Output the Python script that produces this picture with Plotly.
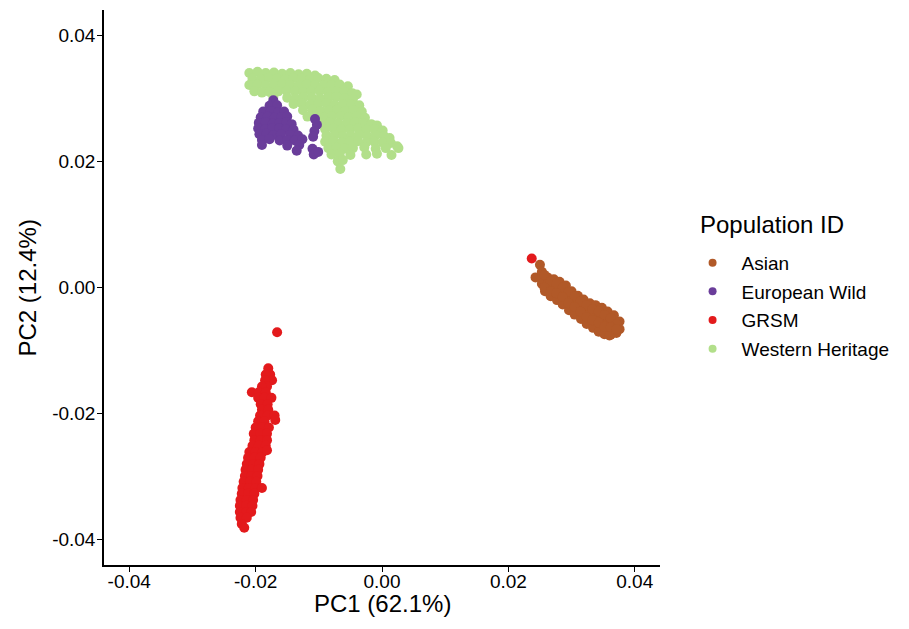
import plotly.graph_objects as go

# ---------------- data (PC1, PC2) ----------------
western_x = [-0.0210,-0.0197,-0.0184,-0.0171,-0.0158,-0.0145,-0.0132,-0.0119,-0.0106,
             -0.0205,-0.0192,-0.0179,-0.0166,-0.0153,-0.0140,-0.0127,-0.0114,-0.0101,-0.0088,-0.0075,
             -0.0210,-0.0197,-0.0184,-0.0171,-0.0158,-0.0145,-0.0132,-0.0119,-0.0106,-0.0093,-0.0080,-0.0067,-0.0054,
             -0.0202,-0.0190,-0.0178,-0.0164,-0.0151,-0.0138,-0.0125,-0.0112,-0.0099,-0.0086,-0.0073,-0.0060,-0.0047,-0.0040,
             -0.0172,-0.0150,-0.0137,-0.0124,-0.0111,-0.0098,-0.0085,-0.0072,-0.0059,-0.0046,
             -0.0140,-0.0127,-0.0114,-0.0101,-0.0088,-0.0075,-0.0062,-0.0049,-0.0036,
             -0.0125,-0.0110,-0.0097,-0.0084,-0.0071,-0.0058,-0.0045,-0.0032,
             -0.0118,-0.0105,-0.0092,-0.0079,-0.0066,-0.0053,-0.0040,-0.0027,
             -0.0095,-0.0082,-0.0069,-0.0056,-0.0043,-0.0030,-0.0017,-0.0008,
             -0.0090,-0.0077,-0.0064,-0.0051,-0.0038,-0.0025,-0.0012,0.0001,
             -0.0088,-0.0075,-0.0062,-0.0049,-0.0036,-0.0023,-0.0010,0.0003,0.0012,
             -0.0090,-0.0077,-0.0064,-0.0051,-0.0038,-0.0025,-0.0012,0.0001,0.0014,0.0024,
             -0.0085,-0.0072,-0.0059,-0.0046,-0.0028,-0.0010,0.0006,0.0026,
             -0.0080,-0.0067,-0.0050,-0.0025,-0.0008,0.0015,
             -0.0070,-0.0062,
             -0.0066]
western_y = [0.0340,0.0342,0.0340,0.0341,0.0339,0.0340,0.0338,0.0339,0.0336,
             0.0331,0.0330,0.0332,0.0331,0.0330,0.0332,0.0331,0.0330,0.0332,0.0331,0.0329,
             0.0321,0.0322,0.0320,0.0321,0.0322,0.0321,0.0320,0.0322,0.0321,0.0320,0.0321,0.0322,0.0319,
             0.0311,0.0309,0.0310,0.0311,0.0312,0.0311,0.0310,0.0311,0.0312,0.0310,0.0311,0.0310,0.0308,0.0306,
             0.0302,0.0301,0.0300,0.0302,0.0301,0.0300,0.0301,0.0302,0.0300,0.0299,
             0.0291,0.0292,0.0290,0.0291,0.0292,0.0290,0.0291,0.0290,0.0289,
             0.0281,0.0282,0.0280,0.0281,0.0282,0.0280,0.0281,0.0279,
             0.0271,0.0272,0.0270,0.0271,0.0272,0.0270,0.0271,0.0269,
             0.0261,0.0262,0.0260,0.0261,0.0262,0.0260,0.0259,0.0257,
             0.0251,0.0252,0.0250,0.0251,0.0252,0.0250,0.0251,0.0249,
             0.0241,0.0242,0.0240,0.0241,0.0242,0.0240,0.0241,0.0240,0.0237,
             0.0231,0.0232,0.0230,0.0231,0.0232,0.0230,0.0231,0.0230,0.0229,0.0224,
             0.0221,0.0222,0.0220,0.0221,0.0222,0.0220,0.0221,0.0221,
             0.0211,0.0212,0.0210,0.0211,0.0212,0.0210,
             0.0200,0.0202,
             0.0188]

euro_x = [-0.0172,
          -0.0178,-0.0166,
          -0.0188,-0.0176,-0.0164,-0.0155,
          -0.0192,-0.0181,-0.0170,-0.0159,-0.0150,
          -0.0195,-0.0184,-0.0173,-0.0162,-0.0151,-0.0143,
          -0.0196,-0.0185,-0.0174,-0.0163,-0.0152,-0.0140,
          -0.0194,-0.0183,-0.0172,-0.0160,-0.0145,-0.0133,
          -0.0190,-0.0178,-0.0162,-0.0150,-0.0138,-0.0126,
          -0.0190,-0.0150,-0.0131,
          -0.0135,
          -0.0106,-0.0103,-0.0107,-0.0109,-0.0110,-0.0108,-0.0101]
euro_y = [0.0297,
          0.0288,0.0289,
          0.0279,0.0280,0.0278,0.0279,
          0.0270,0.0271,0.0269,0.0270,0.0271,
          0.0261,0.0262,0.0260,0.0261,0.0262,0.0259,
          0.0252,0.0251,0.0253,0.0252,0.0251,0.0250,
          0.0243,0.0244,0.0242,0.0243,0.0242,0.0241,
          0.0234,0.0235,0.0233,0.0234,0.0233,0.0235,
          0.0226,0.0225,0.0226,
          0.0217,
          0.0267,0.0258,0.0248,0.0239,0.0220,0.0211,0.0215]

asian_x = [0.0250,0.0243,
           0.0253,0.0253,0.0253,
           0.0262,0.0262,0.0262,0.0258,
           0.0272,0.0272,0.0272,0.0267,
           0.0281,0.0281,0.0281,0.0277,
           0.0291,0.0291,0.0291,0.0286,
           0.0300,0.0300,0.0300,0.0296,
           0.0310,0.0310,0.0310,0.0305,
           0.0319,0.0319,0.0319,0.0315,
           0.0329,0.0329,0.0329,0.0324,
           0.0338,0.0338,0.0338,0.0334,
           0.0348,0.0348,0.0348,0.0343,
           0.0357,0.0357,0.0357,0.0352,
           0.0367,0.0367,0.0367,0.0362,
           0.0376,0.0376,0.0371,
           0.0360,
           0.0257,0.0267,0.0276,0.0286,0.0295,0.0305,0.0314,0.0324,0.0333,0.0343,0.0352,0.0362,0.0371,
           0.0257,0.0267,0.0276,0.0286,0.0295,0.0305,0.0314,0.0324,0.0333,0.0343,0.0352,0.0362,0.0371]
asian_y = [0.0036,0.0016,
           0.0025,0.0014,0.0006,
           0.0016,0.0005,-0.0003,-0.0006,
           0.0013,0.0002,-0.0009,-0.0014,
           0.0009,-0.0002,-0.0016,-0.0020,
           0.0003,-0.0009,-0.0022,-0.0027,
           -0.0006,-0.0019,-0.0032,-0.0036,
           -0.0013,-0.0025,-0.0038,-0.0043,
           -0.0019,-0.0032,-0.0044,-0.0050,
           -0.0025,-0.0040,-0.0054,-0.0058,
           -0.0028,-0.0044,-0.0060,-0.0064,
           -0.0032,-0.0049,-0.0066,-0.0070,
           -0.0038,-0.0054,-0.0070,-0.0074,
           -0.0044,-0.0057,-0.0070,-0.0075,
           -0.0054,-0.0066,-0.0072,
           -0.0076,
           0.0020,0.0010,0.0005,0.0000,-0.0007,-0.0014,-0.0022,-0.0028,-0.0034,-0.0038,-0.0044,-0.0049,-0.0058,
           0.0000,-0.0006,-0.0009,-0.0015,-0.0025,-0.0031,-0.0038,-0.0047,-0.0052,-0.0056,-0.0062,-0.0063,-0.0066]

grsm_x = [-0.0166, 0.0237,
          -0.0180,
          -0.0177,-0.0184,
          -0.0174,-0.0185,
          -0.0182,-0.0190,
          -0.0206,-0.0195,-0.0184,
          -0.0196,-0.0186,-0.0175,
          -0.0192,-0.0181,
          -0.0190,-0.0180,
          -0.0193,-0.0181,-0.0170,
          -0.0196,-0.0186,-0.0169,
          -0.0200,-0.0190,-0.0179,
          -0.0203,-0.0193,-0.0182,
          -0.0202,-0.0192,-0.0182,
          -0.0205,-0.0195,-0.0184,
          -0.0210,-0.0200,-0.0189,-0.0182,
          -0.0212,-0.0202,-0.0192,
          -0.0214,-0.0204,-0.0194,
          -0.0216,-0.0206,-0.0196,
          -0.0217,-0.0207,-0.0197,
          -0.0219,-0.0209,-0.0199,
          -0.0221,-0.0211,-0.0200,-0.0190,
          -0.0222,-0.0212,-0.0202,
          -0.0224,-0.0214,-0.0204,
          -0.0225,-0.0215,-0.0205,
          -0.0225,-0.0215,-0.0207,
          -0.0224,-0.0214,
          -0.0222,
          -0.0218]
grsm_y = [-0.0071, 0.0046,
          -0.0128,
          -0.0138,-0.0138,
          -0.0147,-0.0147,
          -0.0157,-0.0157,
          -0.0166,-0.0166,-0.0166,
          -0.0175,-0.0175,-0.0175,
          -0.0185,-0.0185,
          -0.0194,-0.0194,
          -0.0203,-0.0203,-0.0203,
          -0.0212,-0.0212,-0.0210,
          -0.0222,-0.0222,-0.0222,
          -0.0232,-0.0232,-0.0232,
          -0.0242,-0.0242,-0.0242,
          -0.0251,-0.0251,-0.0251,
          -0.0261,-0.0261,-0.0261,-0.0258,
          -0.0270,-0.0270,-0.0270,
          -0.0280,-0.0280,-0.0280,
          -0.0289,-0.0289,-0.0289,
          -0.0299,-0.0299,-0.0299,
          -0.0308,-0.0308,-0.0308,
          -0.0318,-0.0318,-0.0318,-0.0318,
          -0.0327,-0.0327,-0.0327,
          -0.0337,-0.0337,-0.0337,
          -0.0346,-0.0346,-0.0346,
          -0.0356,-0.0356,-0.0356,
          -0.0365,-0.0365,
          -0.0375,
          -0.0381]

tick_vals = [-0.04, -0.02, 0.0, 0.02, 0.04]
tick_text = ["-0.04", "-0.02", "0.00", "0.02", "0.04"]

legend_names = ["Asian", "European Wild", "GRSM", "Western Heritage"]
colors = {"Asian": "#B15928", "European Wild": "#6A3D9A", "GRSM": "#E31A1C", "Western Heritage": "#B2DF8A"}

FONT = "Liberation Sans, Arial, Helvetica, sans-serif"

fig = go.Figure()
# drawing order: Western Heritage, European Wild, Asian, GRSM
for name, xs, ys in [("Western Heritage", western_x, western_y),
                     ("European Wild", euro_x, euro_y),
                     ("Asian", asian_x, asian_y),
                     ("GRSM", grsm_x, grsm_y)]:
    fig.add_trace(go.Scatter(x=xs, y=ys, mode="markers", name=name, showlegend=False,
                             marker=dict(size=10, color=colors[name], line=dict(width=0)),
                             hoverinfo="x+y+name"))
# legend entries
for i, name in enumerate(legend_names):
    fig.add_trace(go.Scatter(x=[None], y=[None], mode="markers", name=name,
                             legendrank=i + 1, legendgroup=name,
                             marker=dict(size=8, color=colors[name])))

axis_common = dict(range=[-0.044, 0.044], tickvals=tick_vals, ticktext=tick_text,
                   showgrid=False, zeroline=False, showline=True, linecolor="black", linewidth=1.5,
                   ticks="outside", ticklen=5, tickwidth=1.2, tickcolor="black", automargin=False,
                   tickfont=dict(family=FONT, size=19, color="black"))

# page body has an 8px margin, so the figure is 8px smaller than the window
fig.update_layout(
    width=901, height=621,
    margin=dict(l=96, r=249, t=2, b=64),
    plot_bgcolor="white", paper_bgcolor="white",
    font=dict(family=FONT, color="black"),
    xaxis=dict(**axis_common, ticklabelstandoff=-7),
    yaxis=dict(**axis_common, ticklabelstandoff=-2),
    legend=dict(font=dict(family=FONT, size=19), x=1.0424, xanchor="left", y=0.467, yanchor="middle",
                itemwidth=48, itemsizing="trace", bgcolor="rgba(0,0,0,0)",
                traceorder="grouped", tracegroupgap=1),
    annotations=[
        dict(text="PC1 (62.1%)", x=0.5, y=-0.0685, xref="paper", yref="paper",
             xanchor="center", yanchor="middle", showarrow=False, font=dict(family=FONT, size=24)),
        dict(text="PC2 (12.4%)", x=-0.1367, y=0.5, xref="paper", yref="paper", textangle=-90,
             xanchor="center", yanchor="middle", showarrow=False, font=dict(family=FONT, size=24)),
        dict(text="Population ID", x=1.0683, y=0.6144, xref="paper", yref="paper",
             xanchor="left", yanchor="middle", showarrow=False, font=dict(family=FONT, size=24)),
    ],
)

fig.write_html("out.html")
